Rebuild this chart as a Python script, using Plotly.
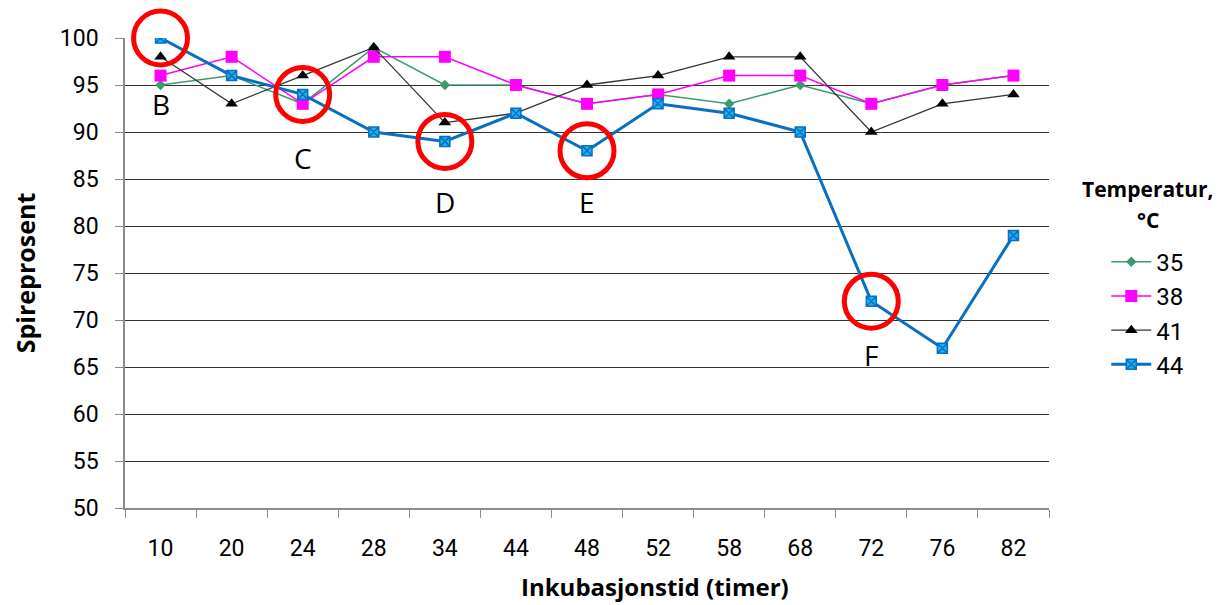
import plotly.graph_objects as go

timer = ["10", "20", "24", "28", "34", "44", "48", "52", "58", "68", "72", "76", "82"]
t35 = [95, 96, 93, 99, 95, 95, 93, 94, 93, 95, 93, 95, 96]
t38 = [96, 98, 93, 98, 98, 95, 93, 94, 96, 96, 93, 95, 96]
t41 = [98, 93, 96, 99, 91, 92, 95, 96, 98, 98, 90, 93, 94]
t44 = [100, 96, 94, 90, 89, 92, 88, 93, 92, 90, 72, 67, 79]

circle_x = ["10", "24", "34", "48", "72"]
circle_y = [100, 94, 89, 88, 72]
letters = ["B", "C", "D", "E", "F"]
letter_y = [93, 87.2, 82.6, 82.6, 66.3]
yticks = [50, 55, 60, 65, 70, 75, 80, 85, 90, 95, 100]

FONT = "Roboto, sans-serif"
BOLD = "Open Sans, Noto Sans, sans-serif"

fig = go.Figure()
fig.add_trace(go.Scatter(x=timer, y=t35, name="35", mode="lines+markers",
                         line=dict(color="#3c9a6c", width=1.5),
                         marker=dict(symbol="diamond", size=8, color="#3c9a6c")))
fig.add_trace(go.Scatter(x=timer, y=t38, name="38", mode="lines+markers",
                         line=dict(color="#ff00ff", width=1.5),
                         marker=dict(symbol="square", size=12, color="#ff00ff")))
fig.add_trace(go.Scatter(x=timer, y=t41, name="41", mode="lines+markers",
                         line=dict(color="#333333", width=1.3),
                         marker=dict(symbol="triangle-up", size=11, color="#000000")))
fig.add_trace(go.Scatter(x=timer, y=t44, name="44", mode="lines+markers",
                         line=dict(color="#0a6fc2", width=3),
                         marker=dict(symbol="square-x", size=10, color="#19b4ef",
                                     line=dict(color="#0a6fc2", width=1.5))))
fig.add_trace(go.Scatter(x=circle_x, y=circle_y, mode="markers", showlegend=False,
                         hoverinfo="skip", cliponaxis=False,
                         marker=dict(symbol="circle-open", size=54, color="#ff0000",
                                     line=dict(color="#ff0000", width=5))))

for lx, ly, lt in zip(circle_x, letter_y, letters):
    fig.add_annotation(x=timer.index(lx), y=ly, text=lt, showarrow=False,
                       font=dict(size=28, color="#000000", family="Open Sans, sans-serif"))

fig.add_annotation(xref="paper", yref="paper", x=1.107, y=0.679,
                   xanchor="center", yanchor="middle", showarrow=False,
                   text="<b>Temperatur,</b>",
                   font=dict(size=21, family=BOLD, color="#000000"))
fig.add_annotation(xref="paper", yref="paper", x=1.107, y=0.613,
                   xanchor="center", yanchor="middle", showarrow=False,
                   text="<b>°C</b>",
                   font=dict(size=21, family=BOLD, color="#000000"))
fig.add_annotation(xref="paper", yref="paper", x=0.574, y=-0.166,
                   xanchor="center", yanchor="middle", showarrow=False,
                   text="<b>Inkubasjonstid (timer)</b>",
                   font=dict(size=24, family=BOLD, color="#000000"))

fig.update_layout(
    width=1223, height=597,
    margin=dict(l=117, r=182, t=30, b=97, autoexpand=False),
    paper_bgcolor="white", plot_bgcolor="white",
    font=dict(family=FONT, size=23, color="#000000"),
    legend=dict(
        x=1.062, xanchor="left", y=0.571, yanchor="top",
        font=dict(size=24), tracegroupgap=0, itemwidth=40,
    ),
    xaxis=dict(
        type="category", categoryorder="array", categoryarray=timer,
        showgrid=False, showline=True, linecolor="#8c8c8c", linewidth=1.5,
        ticks="outside", tickson="boundaries", ticklen=8, tickcolor="#8c8c8c",
        tickfont=dict(size=23, family=FONT), ticklabelstandoff=19,
        range=[-0.5, 12.5], automargin=False,
    ),
    yaxis=dict(
        range=[50, 100], tickvals=yticks,
        showgrid=True, gridcolor="#333333", gridwidth=1.4,
        showline=True, linecolor="#8c8c8c", linewidth=1.5,
        ticks="outside", ticklen=8, tickcolor="#8c8c8c",
        tickfont=dict(size=23, family=FONT), ticklabelstandoff=12,
        title=dict(text="<b>Spireprosent</b>",
                   font=dict(size=25, family=BOLD), standoff=34),
        zeroline=False, automargin=False,
    ),
)

fig.write_html("out.html")
